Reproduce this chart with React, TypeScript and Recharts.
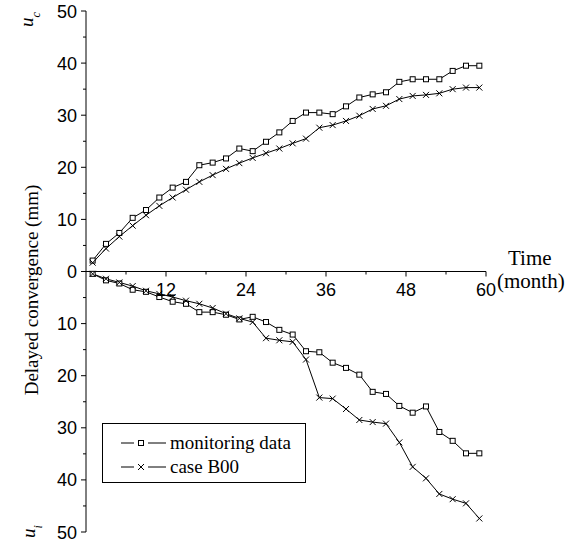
import { LineChart, Line, XAxis, YAxis, ReferenceLine, Legend } from "recharts"

// months at which the readings were taken
const months = [1, 3, 5, 7, 9, 11, 13, 15, 17, 19, 21, 23, 25, 27, 29, 31, 33, 35, 37, 39, 41, 43, 45, 47, 49, 51, 53, 55, 57, 59]

// u_c (upper half)
const monitoringUc = [2.1, 5.3, 7.4, 10.3, 11.8, 14.2, 16.1, 17.2, 20.4, 20.9, 21.7, 23.6, 23.1, 24.9, 26.7, 28.9, 30.5, 30.5, 30.2, 31.7, 33.4, 34.0, 34.4, 36.4, 36.9, 36.9, 36.9, 38.5, 39.5, 39.5]
const caseUc = [1.7, 4.4, 6.7, 8.8, 10.8, 12.6, 14.2, 15.7, 17.2, 18.5, 19.7, 20.8, 21.8, 22.7, 23.6, 24.6, 25.5, 27.6, 28.1, 28.9, 29.9, 31.2, 31.8, 33.1, 33.7, 33.9, 34.2, 35.0, 35.3, 35.3]

// u_i (lower half, magnitudes)
const monitoringUi = [0.45, 1.7, 2.3, 3.5, 3.9, 4.9, 5.8, 6.2, 7.8, 7.8, 8.3, 9.2, 8.7, 9.7, 11.2, 12.1, 15.3, 15.5, 17.5, 18.5, 19.8, 23.1, 23.5, 25.8, 27.1, 25.9, 30.8, 32.5, 34.9, 34.9]
const caseUi = [0.45, 1.4, 2.1, 2.8, 3.7, 4.3, 4.9, 5.6, 6.2, 7.0, 8.1, 9.0, 9.7, 12.8, 13.2, 13.5, 16.9, 24.2, 24.4, 26.4, 28.5, 28.9, 29.2, 32.8, 37.5, 39.7, 42.7, 43.7, 44.5, 47.4]

const xTicks = [6, 12, 18, 24, 30, 36, 42, 48, 54, 60]
const yTicks = [-50, -45, -40, -35, -30, -25, -20, -15, -10, -5, 0, 5, 10, 15, 20, 25, 30, 35, 40, 45, 50]

const data = months.map((m, i) => ({
  month: m,
  monC: monitoringUc[i],
  caseC: caseUc[i],
  monI: -monitoringUi[i],
  caseI: -caseUi[i],
}))

const SANS = "'Liberation Sans', Arial, sans-serif"
const SERIF = "'Liberation Serif', 'Times New Roman', serif"

const W = 567
const H = 544
const TOP = 11
const XAXIS_H = 12
// x axis sits on the zero line, half the plot height above the bottom
const HALF = (H - TOP - XAXIS_H) / 2

const SquareDot = (p: any) => (
  <rect key={p.key} x={p.cx - 2.5} y={p.cy - 2.5} width={5} height={5} fill="#fff" stroke="#000" strokeWidth={1} />
)

const CrossDot = (p: any) => (
  <path key={p.key} d={`M${p.cx - 3},${p.cy - 3}L${p.cx + 3},${p.cy + 3}M${p.cx - 3},${p.cy + 3}L${p.cx + 3},${p.cy - 3}`} stroke="#000" strokeWidth={1} fill="none" />
)

const XTick = (p: any) => {
  const major = p.payload.value % 12 === 0
  const y0 = p.y - HALF
  return (
    <g>
      <line x1={p.x} x2={p.x} y1={y0} y2={y0 + (major ? 5 : 3)} stroke="#000" />
      {major && (
        <text x={p.x} y={y0 + 24} textAnchor="middle" fontFamily={SANS} fontSize={18} fill="#000">
          {p.payload.value}
        </text>
      )}
    </g>
  )
}

const YTick = (p: any) => {
  const major = p.payload.value % 10 === 0
  return (
    <g>
      <line x1={p.x - (major ? 5 : 3)} x2={p.x} y1={p.y} y2={p.y} stroke="#000" />
      {major && (
        <text x={p.x - 9} y={p.y} dy={6.5} textAnchor="end" fontFamily={SANS} fontSize={18} fill="#000">
          {Math.abs(p.payload.value)}
        </text>
      )}
    </g>
  )
}

const YTitle = () => (
  <g fill="#000">
    <text transform="translate(38,290) rotate(-90)" textAnchor="middle" fontFamily={SERIF} fontSize={19}>
      Delayed convergence (mm)
    </text>
    <text transform="translate(33,27) rotate(-90)" fontFamily={SERIF} fontSize={19} fontStyle="italic">
      u<tspan fontSize={12} dy={7}>c</tspan>
    </text>
    <text transform="translate(35,538) rotate(-90)" fontFamily={SERIF} fontSize={19} fontStyle="italic">
      u<tspan fontSize={12} dy={7}>i</tspan>
    </text>
  </g>
)

const TimeTitle = (p: any) => {
  const vb = p.viewBox
  const right = vb.x + vb.width
  return (
    <g fill="#000" fontFamily={SERIF} fontSize={21}>
      <text x={right + 22} y={vb.y - 7}>Time</text>
      <text x={right + 11} y={vb.y + 16}>(month)</text>
    </g>
  )
}

const LegendBox = () => (
  <div style={{ border: "1px solid #000", width: 204, height: 60, boxSizing: "border-box", fontFamily: SERIF, fontSize: 19, padding: "7px 0 0 17px", lineHeight: "24px" }}>
    {[
      { name: "monitoring data", Dot: SquareDot },
      { name: "case B00", Dot: CrossDot },
    ].map(({ name, Dot }) => (
      <div key={name} style={{ display: "flex", alignItems: "center", height: 24 }}>
        <svg width={50} height={12} style={{ flex: "none" }}>
          <line x1={1} x2={14} y1={6} y2={6} stroke="#000" />
          <line x1={28} x2={46} y1={6} y2={6} stroke="#000" />
          <Dot cx={21} cy={6} />
        </svg>
        <span>{name}</span>
      </div>
    ))}
  </div>
)

export default function App() {
  return (
    <div style={{ position: "absolute", left: 0, top: 0, width: W, height: H, background: "#fff" }}>
      <LineChart width={W} height={H} data={data} margin={{ top: TOP, right: 81, bottom: 0, left: 46 }}>
        <XAxis
          dataKey="month"
          type="number"
          domain={[0, 60]}
          ticks={xTicks}
          interval={0}
          height={XAXIS_H}
          axisLine={false}
          tickLine={false}
          tickSize={0}
          tickMargin={0}
          tick={<XTick />}
        />
        <YAxis
          domain={[-50, 50]}
          ticks={yTicks}
          interval={0}
          width={40}
          axisLine={{ stroke: "#000" }}
          tickLine={false}
          tickSize={0}
          tickMargin={0}
          tick={<YTick />}
          label={<YTitle />}
        />
        <ReferenceLine y={0} stroke="#000" label={<TimeTitle />} />
        <Legend
          layout="vertical"
          align="center"
          verticalAlign="middle"
          wrapperStyle={{ position: "absolute", left: 102, top: 423, width: 204 }}
          content={<LegendBox />}
        />
        <Line dataKey="monC" stroke="#000" strokeWidth={1} dot={<SquareDot />} isAnimationActive={false} />
        <Line dataKey="caseC" stroke="#000" strokeWidth={1} dot={<CrossDot />} isAnimationActive={false} />
        <Line dataKey="monI" stroke="#000" strokeWidth={1} dot={<SquareDot />} isAnimationActive={false} />
        <Line dataKey="caseI" stroke="#000" strokeWidth={1} dot={<CrossDot />} isAnimationActive={false} />
      </LineChart>
    </div>
  )
}
